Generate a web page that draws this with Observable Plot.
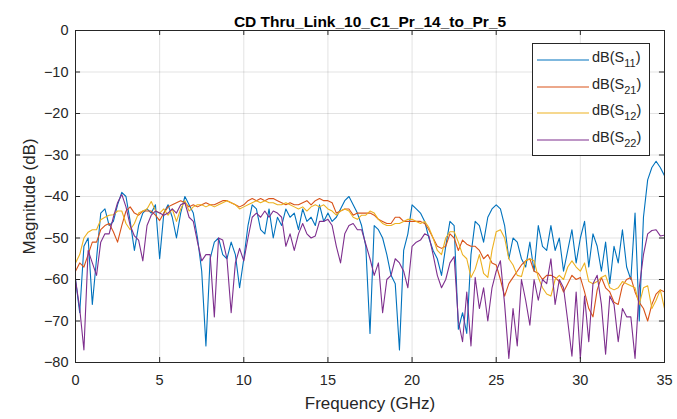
<!DOCTYPE html>
<html><head><meta charset="utf-8">
<script src="https://cdn.jsdelivr.net/npm/d3@7"></script>
<script src="https://cdn.jsdelivr.net/npm/@observablehq/plot@0.6"></script>
<style>
body{margin:0;background:#fff;}
#wrap{position:relative;width:677px;height:419px;font-family:"Liberation Sans",Arial,sans-serif;color:#262626;}
#legend{position:absolute;left:532px;top:43px;width:118px;height:113px;border:1px solid #262626;background:#fff;box-sizing:border-box;}
.row{position:absolute;left:0;height:24px;width:118px;}
.row svg{position:absolute;left:4px;top:11px;}
.row .lab{position:absolute;left:59px;top:1px;font-size:14.5px;white-space:nowrap;}
.row .lab sub{font-size:11px;vertical-align:-5px;}
</style></head>
<body><div id="wrap"></div>
<script>
const title = "CD Thru_Link_10_C1_Pr_14_to_Pr_5";
const xLabel = "Frequency (GHz)";
const yLabel = "Magnitude (dB)";
const xTicks = [0, 5, 10, 15, 20, 25, 30, 35];
const yTicks = [0, -10, -20, -30, -40, -50, -60, -70, -80];
const seriesNames = ["11", "21", "12", "22"];
const seriesColors = ["#0072BD", "#D95319", "#EDB120", "#7E2F8E"];
const freq = d3.range(0, 35.001, 0.25);

const s11 = [-60,-68,-52,-50,-66,-55,-44,-43,-47,-46,-42,-39,-40,-46,-53,-47,
-44,-43,-44,-42,-55,-44,-42,-45,-50,-44,-40,-42,-44,-50,-58,-76,
-55,-51,-50,-54,-55,-51,-54,-62,-55,-47,-42,-43,-48,-49,-43,-50,
-45,-47,-43,-45,-44,-48,-43,-46,-45,-47,-42,-46,-44,-46,-45,-43,
-41,-40,-42,-44,-47,-52,-73,-47,-48,-50,-54,-59,-61,-77,-53,-49,
-42,-43,-44,-46,-50,-53,-55,-59,-52,-46,-47,-72,-68,-73,-54,-46,
-47,-51,-45,-43,-42,-43,-47,-55,-50,-51,-55,-57,-51,-58,-47,-52,
-53,-47,-53,-50,-58,-53,-48,-56,-50,-46,-57,-49,-52,-58,-51,-61,
-52,-56,-48,-57,-60,-44,-70,-45,-36,-33,-31.5,-33,-35];

const s21 = [-58,-56,-57,-54,-51,-51,-48,-47,-46.5,-48.5,-51,-47,-43.5,-42.5,-44,-44.5,
-43.5,-43.5,-43.5,-44.5,-45.8,-44,-42.5,-42,-41.5,-41,-41.5,-42.5,-42,-42.5,-42,-41.5,
-42,-42,-41.5,-41,-41,-41.5,-42,-42.5,-42,-41,-40.5,-41,-40.5,-41,-40.5,-40.5,
-41,-41.5,-42,-41.5,-42,-42,-41.5,-41,-42,-41,-40.5,-41,-41,-41.5,-44,-43.5,
-43,-43,-44.5,-44,-44,-44,-44,-44.5,-45.5,-46,-46.5,-46.5,-45,-45,-46,-46,
-46,-46,-46,-46.5,-48,-50,-52,-52.5,-52,-49,-50,-53,-50.5,-51.5,-52,-52,
-53,-55,-54,-56,-56.5,-60,-64,-61,-59.5,-58,-56.5,-55.5,-55,-58,-58.5,-60,
-59,-59,-59.5,-60.5,-63,-61,-59,-60,-59.5,-63,-67,-69,-62.5,-59.5,-62,-63,
-65.5,-66,-61.5,-60,-59.5,-63,-65.5,-67,-70,-66,-63.5,-62.5,-63];

const s12 = [-56,-54,-50,-48.6,-48,-48,-45.6,-45,-44.5,-44.4,-43.5,-43.5,-46.5,-48,-46.5,-44,
-43.5,-43,-41.2,-43.4,-44,-43,-44.5,-43,-46,-43,-41,-43.5,-42.5,-42,-42,-42.5,
-42,-42.5,-42,-41.5,-41,-41.5,-42,-43,-42.5,-42,-41.5,-41,-41.5,-41,-41.5,-41.5,
-42,-42,-41.5,-42,-42.5,-43,-42.5,-43.5,-42.5,-42,-42.5,-42,-43,-43.5,-44.5,-43.5,
-43,-43.5,-45,-45.5,-44.5,-44.5,-43.5,-44,-45.5,-46.5,-47,-47,-46.5,-46.5,-46,-45.5,
-45.5,-46,-46.5,-46,-47.5,-50,-53,-54,-50,-48.5,-48.5,-51,-54,-55,-59.5,-57.5,
-54,-58.5,-59.5,-53,-48.5,-48,-50,-55,-56.5,-59,-59.3,-55.5,-55,-55.5,-59.5,-62,
-63.5,-64,-60,-59,-60,-57,-55.5,-57,-58,-56,-60.5,-61,-60.5,-59.5,-59,-62,
-62.5,-62,-60.5,-61,-61.5,-62,-66,-62,-61.5,-67,-65,-62.5,-67];

const s22 = [-60,-67,-77,-53,-56,-59,-51,-49,-49,-45,-41.5,-39.5,-42.5,-47,-49.5,-50.5,
-55.5,-47,-44.5,-43.5,-44,-44.5,-44,-43,-44,-42,-41.5,-45,-46,-51,-55.5,-54,
-54,-69,-50,-50.5,-55,-68,-56,-52.5,-55.5,-50,-45,-44,-45,-43.5,-45,-43.5,
-44,-45,-52,-49,-53,-49,-46.5,-49,-50,-49.5,-46,-46,-45.5,-47,-52,-56,
-49,-47,-46.5,-48,-48,-51.5,-55,-59,-56,-68,-60,-59,-55,-56,-58,-62,
-52,-51,-50.5,-49,-49.5,-54,-59,-62,-60,-56,-54.5,-70,-75,-63,-76,-59.5,
-67,-62,-70,-62,-58,-55.5,-66,-79,-67,-76,-60,-65,-71,-60,-65,-60,
-61,-55,-66,-60,-62,-70,-78.5,-63,-79,-64,-75,-61,-59,-66,-78,-64,
-66,-75,-67,-69,-69,-79,-62,-54,-49,-48.2,-48,-49.5,-49.3];

const seriesValues = [s11, s21, s12, s22];
const rows = [];
seriesValues.forEach((vals, k) => vals.forEach((v, i) => rows.push({f: freq[i], db: v, s: seriesNames[k]})));

const axisColor = "#262626";
const tx = 1.2, ty = 0.3; // inward tick lengths in data units
const lines = seriesNames.map((n, k) => Plot.line(rows.filter(r => r.s === n), {x: "f", y: "db", stroke: seriesColors[k], strokeWidth: 1.1, clip: true}));

const chart = Plot.plot({
  width: 677, height: 419,
  marginLeft: 75, marginRight: 13, marginTop: 30, marginBottom: 57,
  style: {fontFamily: "Liberation Sans, Arial, sans-serif", fontSize: "14px", color: axisColor, background: "#fff"},
  x: {domain: [0, 35]},
  y: {domain: [-80, 0]},
  marks: [
    Plot.gridX(xTicks, {stroke: axisColor, strokeOpacity: 0.13}),
    Plot.gridY(yTicks, {stroke: axisColor, strokeOpacity: 0.13}),
    ...lines,
    Plot.frame({stroke: axisColor}),
    Plot.ruleX(xTicks, {x: d => d, y1: -80, y2: -80 + tx, stroke: axisColor}),
    Plot.ruleX(xTicks, {x: d => d, y1: 0, y2: -tx, stroke: axisColor}),
    Plot.ruleY(yTicks, {y: d => d, x1: 0, x2: ty, stroke: axisColor}),
    Plot.ruleY(yTicks, {y: d => d, x1: 35, x2: 35 - ty, stroke: axisColor}),
    Plot.axisX(xTicks, {tickSize: 0, tickPadding: 12, label: null, fontSize: 14.5}),
    Plot.axisY(yTicks, {tickSize: 0, tickPadding: 7, label: null, fontSize: 14.5}),
    Plot.text([title], {text: d => d, frameAnchor: "top", dy: -15, fontWeight: "bold", fontSize: 15.5, fill: "#000"}),
    Plot.text([xLabel], {text: d => d, frameAnchor: "bottom", dy: 46, fontSize: 17}),
    Plot.text([yLabel], {text: d => d, frameAnchor: "left", textAnchor: "middle", dx: -46, rotate: -90, fontSize: 17})
  ]
});
const wrap = document.getElementById("wrap");
wrap.appendChild(chart);

const legend = document.createElement("div");
legend.id = "legend";
seriesNames.forEach((n, k) => {
  const row = document.createElement("div");
  row.className = "row";
  row.style.top = (4 + k * 26.7) + "px";
  row.innerHTML = `<svg width="52" height="2"><line x1="0" y1="1" x2="52" y2="1" stroke="${seriesColors[k]}" stroke-width="1.2"/></svg><span class="lab">dB(S<sub>${n}</sub>)</span>`;
  legend.appendChild(row);
});
wrap.appendChild(legend);
</script></body></html>
